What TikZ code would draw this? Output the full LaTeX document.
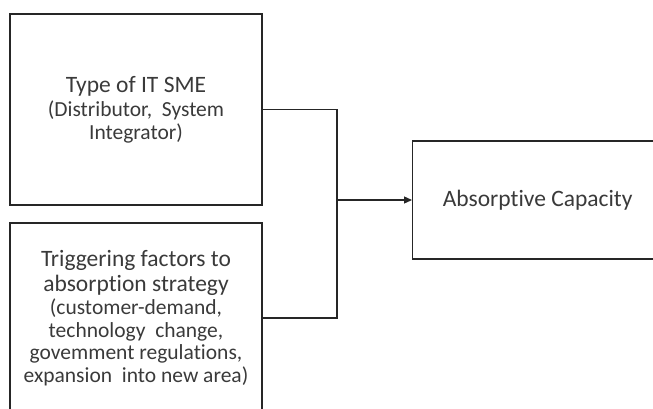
\documentclass[tikz,border=0pt]{standalone}
\usepackage{fontspec}
\setmainfont{Carlito}[Ligatures=NoCommon]
\usetikzlibrary{arrows.meta}
\definecolor{inkgray}{HTML}{3A3A3A}
\definecolor{linegray}{HTML}{262626}
\newcommand{\bigline}[1]{{\fontsize{23.5}{25}\selectfont #1}}
\begin{document}
\begin{tikzpicture}[x=1pt,y=-1pt,text=inkgray,font=\fontsize{21.5}{22.5}\selectfont]

\useasboundingbox (0,0) rectangle (653,408);

%%%%%%%%%%%%%%%%%%%%%%%%%%%%%%%%%%%%%%%%%%%%%%%%%%%%%%%%%%%%
% Type of IT SME
%%%%%%%%%%%%%%%%%%%%%%%%%%%%%%%%%%%%%%%%%%%%%%%%%%%%%%%%%%%%

\node[
draw=linegray,
line width=1.3pt,
align=center,
minimum width=252pt,
minimum height=191pt
](smetype)
at (136,109.5)
{\bigline{Type of IT SME}\\[2pt](Distributor,\ \ System\\Integrator)};

%%%%%%%%%%%%%%%%%%%%%%%%%%%%%%%%%%%%%%%%%%%%%%%%%%%%%%%%%%%%
% Triggering factors
%%%%%%%%%%%%%%%%%%%%%%%%%%%%%%%%%%%%%%%%%%%%%%%%%%%%%%%%%%%%

\node[
draw=linegray,
line width=1.3pt,
align=center,
minimum width=252pt,
minimum height=190pt
](triggers)
at (136,318)
{\bigline{Triggering factors to}\\[2pt]\bigline{absorption strategy}\\[1pt]
(customer-demand,\\technology\ \ change,\\
govemment regulations,\\expansion\ \ into new area)};

%%%%%%%%%%%%%%%%%%%%%%%%%%%%%%%%%%%%%%%%%%%%%%%%%%%%%%%%%%%%
% Absorptive Capacity
%%%%%%%%%%%%%%%%%%%%%%%%%%%%%%%%%%%%%%%%%%%%%%%%%%%%%%%%%%%%

\node[
draw=linegray,
line width=1.3pt,
minimum width=250pt,
minimum height=118pt,
anchor=west
](capacity)
at (412,200)
{\bigline{Absorptive Capacity}};

%%%%%%%%%%%%%%%%%%%%%%%%%%%%%%%%%%%%%%%%%%%%%%%%%%%%%%%%%%%%
% Connectors
%%%%%%%%%%%%%%%%%%%%%%%%%%%%%%%%%%%%%%%%%%%%%%%%%%%%%%%%%%%%

\coordinate (junction) at (337,200);

\draw[linegray,line width=1.3pt] (smetype.east) -| (junction);
\draw[linegray,line width=1.3pt] (triggers.east) -| (junction);
\draw[linegray,line width=1.3pt,-{Triangle[length=8pt,width=7pt]}] (junction) -- (capacity.west);

\end{tikzpicture}
\end{document}
